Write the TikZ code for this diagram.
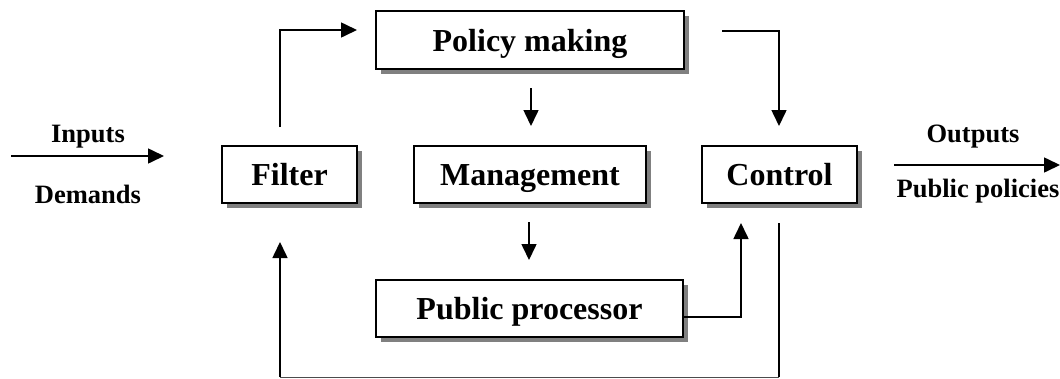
\documentclass[tikz,border=0pt]{standalone}
\usepackage{fontspec}
\setmainfont{Liberation Serif}
\usetikzlibrary{arrows.meta,shadows}
\begin{document}
\begin{tikzpicture}[x=1pt,y=-1pt,
  box/.style={draw=black, line width=2pt, fill=white, minimum height=57pt, inner sep=0pt,
    text height=22pt, text depth=0pt,
    font=\fontsize{32}{36}\selectfont\bfseries,
    drop shadow={shadow xshift=5pt, shadow yshift=-5pt, fill=black!50, opacity=1}},
  lbl/.style={inner sep=0pt, font=\fontsize{26.5}{30}\selectfont\bfseries},
  conn/.style={line width=1.6pt, -{Triangle[length=16pt,width=15pt]}},
  plain/.style={line width=1.6pt},
  thinline/.style={line width=1pt, draw=black!70}]
\useasboundingbox (0,0) rectangle (1060,378);

% boxes
\node[box, minimum width=308pt, minimum height=58pt] (policy) at (530,40) {Policy making};
\node[box, minimum width=135pt] (filter) at (289.5,174.5) {Filter};
\node[box, minimum width=232pt] (mgmt) at (530,174.5) {Management};
\node[box, minimum width=155pt] (control) at (779.5,174.5) {Control};
\node[box, minimum width=307pt] (pp) at (529.5,308.5) {Public processor};

% labels
\node[lbl] (inputs) at (88,137) {Inputs};
\node[lbl] (demands) at (88,194) {Demands};
\node[lbl] (outputs) at (973,137) {Outputs};
\node[lbl] (pubpol) at (978,191) {Public policies};

% free-end coordinates
\coordinate (inA) at (11,156);
\coordinate (inB) at (164,156);
\coordinate (outA) at (894,165);
\coordinate (outB) at (1060,165);

\coordinate (f1) at (280,127);
\coordinate (f2) at (280,30);
\coordinate (f3) at (357,30);

\coordinate (pm1) at (531,88);
\coordinate (pm2) at (531,126);

\coordinate (pc1) at (722,31);
\coordinate (pc2) at (779,31);
\coordinate (pc3) at (779,126);

\coordinate (mp1) at (529,222);
\coordinate (mp2) at (529,260);

\coordinate (ppc1) at (741,317);
\coordinate (ppc2) at (741,223);

\coordinate (cb1) at (779,223);
\coordinate (cb2) at (779,377);
\coordinate (cb3) at (280,377);
\coordinate (cb4) at (280,242);

% connectors
\draw[conn] (inA) -- (inB);
\draw[conn] (outA) -- (outB);
\draw[conn] (f1) -- (f2) -- (f3);
\draw[conn] (pm1) -- (pm2);
\draw[conn] (pc1) -- (pc2) -- (pc3);
\draw[conn] (mp1) -- (mp2);
\draw[conn] (pp.east |- ppc1) -- (ppc1) -- (ppc2);
\draw[plain] (cb1) -- (cb2);
\draw[thinline] (cb2) -- (cb3);
\draw[conn] (cb3) -- (cb4);
\end{tikzpicture}
\end{document}
